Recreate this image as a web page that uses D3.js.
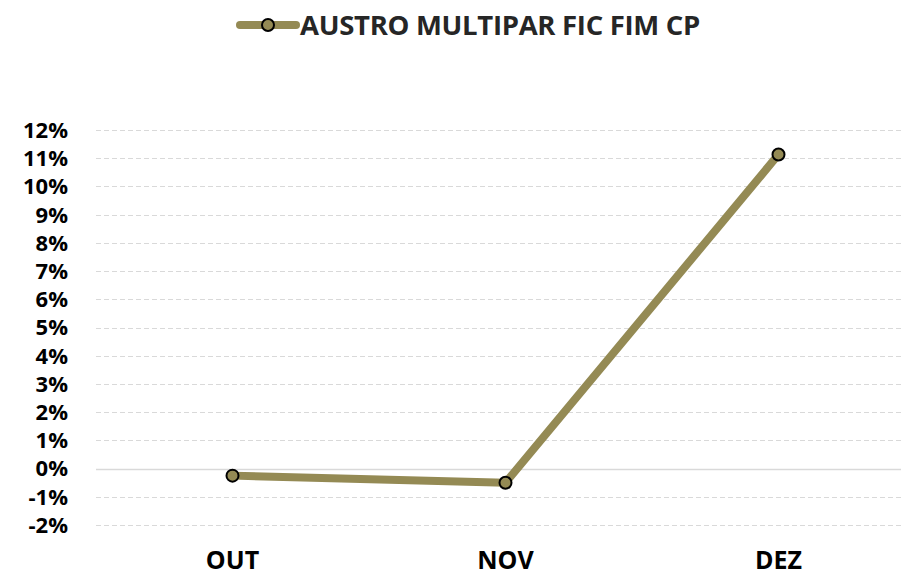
<!DOCTYPE html>
<html>
<head>
<meta charset="utf-8">
<script src="https://cdn.jsdelivr.net/npm/d3@7"></script>
<style>
  body { margin: 0; background: #fff; }
  svg text { font-family: "Open Sans", "Liberation Sans", sans-serif; font-weight: bold; }
</style>
</head>
<body>
<div id="chart"></div>
<script>
const seriesName = "AUSTRO MULTIPAR FIC FIM CP";
const months = ["OUT", "NOV", "DEZ"];
const values = [-0.25, -0.5, 11.13];
const yTicks = [-2, -1, 0, 1, 2, 3, 4, 5, 6, 7, 8, 9, 10, 11, 12];

const W = 901, H = 578;
const margin = { top: 130, right: -14, bottom: 53, left: 96 };
const color = "#948A54";

const svg = d3.select("#chart").append("svg")
    .attr("width", W)
    .attr("height", H);

const x = d3.scaleBand()
    .domain(months)
    .range([margin.left, W - margin.right]);

const y = d3.scaleLinear()
    .domain([-2, 12])
    .range([H - margin.bottom, margin.top]);

// gridlines
svg.append("g")
    .selectAll("line")
    .data(yTicks)
    .join("line")
    .attr("x1", margin.left)
    .attr("x2", W)
    .attr("y1", d => Math.round(y(d)) + 0.5)
    .attr("y2", d => Math.round(y(d)) + 0.5)
    .attr("stroke", "#d9d9d9")
    .attr("stroke-width", d => d === 0 ? 1.5 : 1)
    .attr("stroke-dasharray", d => d === 0 ? null : "5,3");

// y axis labels
svg.append("g")
    .selectAll("text")
    .data(yTicks)
    .join("text")
    .attr("x", 68)
    .attr("y", d => y(d))
    .attr("dy", "0.36em")
    .attr("text-anchor", "end")
    .attr("font-size", 22)
    .attr("fill", "#000")
    .text(d => d + "%");

// x axis labels
svg.append("g")
    .selectAll("text")
    .data(months)
    .join("text")
    .attr("x", d => x(d) + x.bandwidth() / 2)
    .attr("y", 569)
    .attr("text-anchor", "middle")
    .attr("font-size", 25)
    .attr("fill", "#000")
    .text(d => d);

const pts = months.map((m, i) => ({ m, v: values[i] }));

const line = d3.line()
    .x(d => x(d.m) + x.bandwidth() / 2)
    .y(d => y(d.v));

svg.append("path")
    .datum(pts)
    .attr("fill", "none")
    .attr("stroke", color)
    .attr("stroke-width", 8)
    .attr("stroke-linejoin", "round")
    .attr("d", line);

svg.append("g")
    .selectAll("circle")
    .data(pts)
    .join("circle")
    .attr("cx", d => x(d.m) + x.bandwidth() / 2)
    .attr("cy", d => y(d.v))
    .attr("r", 6)
    .attr("fill", color)
    .attr("stroke", "#000")
    .attr("stroke-width", 2);

// legend
const lg = svg.append("g");
lg.append("line")
    .attr("x1", 240).attr("x2", 296)
    .attr("y1", 25).attr("y2", 25)
    .attr("stroke", color)
    .attr("stroke-width", 8)
    .attr("stroke-linecap", "round");
lg.append("circle")
    .attr("cx", 268).attr("cy", 25).attr("r", 6)
    .attr("fill", color)
    .attr("stroke", "#000")
    .attr("stroke-width", 2);
lg.append("text")
    .attr("x", 300)
    .attr("y", 25)
    .attr("dy", "0.36em")
    .attr("font-size", 27.5)
    .attr("letter-spacing", -0.3)
    .attr("fill", "#262626")
    .text(seriesName);
</script>
</body>
</html>
